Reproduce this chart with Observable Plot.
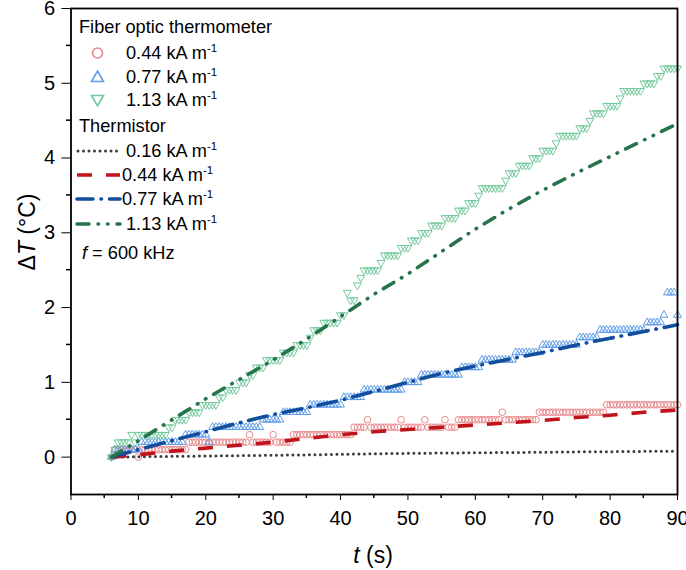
<!DOCTYPE html>
<html><head><meta charset="utf-8">
<script src="https://cdn.jsdelivr.net/npm/d3@7"></script>
<script src="https://cdn.jsdelivr.net/npm/@observablehq/plot@0.6"></script>
<style>body{margin:0;background:#fff}</style>
</head><body><div id="chart"></div>
<script>
// Fiber optic thermometer samples (every 0.5 s from 6 s to 90 s), ΔT in °C
const fiberTime = d3.range(6, 90.001, 0.5);
const fiber044 = [
0,
0.1,0.1,0.1,0.1,0.1,0.1,0.1,
0,
0.1,0.1,0.1,0.1,0.1,0.1,0.1, 0.1,0.1,0.1,0.1,0.1,0.1,0.1,
0.2,0.2,0.2,0.2,0.2,0.2, 0.2,0.2,0.2,0.2,0.2,0.2, 0.2,0.2,0.2,0.2,0.2,0.2,
0.3,
0.2,0.2,0.2,0.2,0.2,0.2,
0.3,
0.2,0.2,0.2,0.2,0.2,
0.3,0.3,0.3,0.3,0.3,0.3, 0.3,0.3,0.3,0.3,0.3,0.3, 0.3,0.3,0.3,0.3,0.3,0.3,
0.4,0.4,0.4,0.4,
0.5,
0.4,0.4,0.4,0.4,0.4,0.4,0.4,0.4,0.4,
0.5,
0.4,0.4,0.4,0.4,0.4,0.4,
0.5,
0.4,0.4,0.4,0.4,0.4,
0.5,
0.4,0.4,0.4,
0.5,0.5,0.5,0.5,0.5,0.5,0.5, 0.5,0.5,0.5,0.5,0.5,0.5,
0.6,
0.5,0.5,0.5,0.5,0.5, 0.5,0.5,0.5,0.5,0.5,
0.6,0.6,0.6,0.6,0.6, 0.6,0.6,0.6,0.6,0.6, 0.6,0.6,0.6,0.6,0.6, 0.6,0.6,0.6,0.6,0.6,
0.7,0.7,0.7,0.7,0.7,0.7,0.7,0.7,0.7,0.7,0.7, 0.7,0.7,0.7,0.7,0.7,0.7,0.7,0.7,0.7,0.7,0.7
];
const fiber077 = [
0,
0.1,0.1,0.1,0.1,0.1,0.1,0.1,0.1,
0.2,0.2,0.2,0.2,0.2,0.2,0.2, 0.2,0.2,0.2,0.2,0.2,0.2,
0.3,0.3,0.3,0.3,0.3,0.3,0.3,
0.2,
0.4,0.4,0.4,0.4,0.4, 0.4,0.4,0.4,0.4,0.4, 0.4,0.4,0.4,0.4,0.4,
0.5,0.5,0.5,0.5,0.5,0.5,
0.6,0.6,0.6,0.6,0.6,0.6,0.6,0.6,
0.7,0.7,0.7,0.7,0.7,0.7,0.7,0.7,0.7,0.7,
0.8,0.8,0.8,0.8,0.8,0.8,
0.9,0.9,0.9,0.9,0.9,0.9, 0.9,0.9,0.9,0.9,0.9,0.9,
1,1,1,1,1,
1.1,1.1,1.1,1.1,1.1,1.1, 1.1,1.1,1.1,1.1,1.1,1.1,
1.2,1.2,1.2,1.2,1.2,1.2,
1.3,1.3,1.3,1.3,1.3, 1.3,1.3,1.3,1.3,1.3,
1.4,1.4,1.4,1.4,1.4,1.4,1.4,1.4,
1.5,1.5,1.5,1.5,1.5,1.5, 1.5,1.5,1.5,1.5,1.5,
1.6,1.6,1.6,1.6,1.6,1.6,
1.7,1.7,1.7,1.7,1.7,1.7,1.7, 1.7,1.7,1.7,1.7,1.7,1.7,1.7,
1.8,1.8,1.8,1.8,1.8,
1.9,
2.2,2.2,2.2,
1.9
];
const fiber113 = [
0, 0.1,
0.2,0.2,0.2,0.2,0.3,0.2,
0.3,0.3,0.3,0.3,0.3,0.3,0.3,0.3,0.3,
0.4,0.4,
0.5,0.5,0.5,0.5,
0.6,0.6,0.6,0.6,
0.7,0.7,0.7,0.7,0.7,
0.8,0.8,
0.9,0.9,0.9,0.9,
1,1,1,
1.1,1.1,
1.2,1.2,1.2,
1.3,1.3,1.3,1.3,1.3,
1.4,1.4,1.4,1.4,
1.5,1.5,1.5,1.5,
1.6,
1.7,1.7,1.7,
1.8,1.8,1.8,1.8,1.8,
1.9,1.9,
2.2,
2.1,2.1,
2.3,
2.4,
2.5,2.5,2.5,2.5,2.5,
2.6,
2.7,2.7,2.7,2.7,2.7,
2.8,2.8,2.8,
2.9,2.9,2.9,
3,3,3,
3.1,3.1,3.1,3.1,
3.2,3.2,3.2,3.2,
3.3,3.3,3.3,
3.4,3.4,3.4,
3.5,
3.6,3.6,3.6,3.6,3.6,3.6,3.6,
3.7,
3.8,3.8,3.8,
3.9,3.9,3.9,3.9,
4,4,4,
4.1,4.1,4.1,4.1,
4.2,
4.3,4.3,4.3,4.3,4.3,4.3,
4.4,4.4,4.4,
4.5,
4.6,4.6,4.6,4.6,
4.7,4.7,4.7,4.7,
4.8,
4.9,4.9,4.9,4.9,4.9,4.9,
5,5,5,5,
5.1,5.1,
5.2,5.2,5.2,5.2,5.2
];

// Thermistor readings, ΔT in °C
const thermTime = [6,10,15,20,25,30,35,40,45,50,55,60,65,70,75,80,85,90];
const therm016 = [0,0.005,0.01,0.015,0.02,0.025,0.03,0.038,0.045,0.05,0.055,0.058,0.062,0.065,0.07,0.073,0.077,0.08];
const therm044 = [0,0.03,0.08,0.12,0.16,0.2,0.25,0.3,0.34,0.37,0.4,0.43,0.46,0.49,0.53,0.56,0.6,0.63];
const therm077 = [0,0.1,0.22,0.34,0.46,0.57,0.66,0.76,0.88,1.0,1.12,1.22,1.31,1.4,1.5,1.59,1.68,1.77];
const therm113 = [0,0.22,0.5,0.78,1.04,1.3,1.58,1.88,2.18,2.45,2.75,3.05,3.32,3.57,3.8,4.02,4.24,4.46];

const xTicks = [0,10,20,30,40,50,60,70,80,90];
const xMinor = [5,15,25,35,45,55,65,75,85];
const yTicks = [0,1,2,3,4,5,6];
const yMinor = [0.5,1.5,2.5,3.5,4.5,5.5];

const fiberLabels = ["0.44", "0.77", "1.13"];
const thermLabels = ["0.16", "0.44", "0.77", "1.13"];

const rows = (ts, vs) => vs.map((v, i) => ({t: ts[i], v})).filter(d => d.t != null);

const C = {
  fc: "#E8868A", fb: "#5E9DE8", fg: "#72C99B",
  tk: "#3c3c3c", tr: "#C0141C", tb: "#124E9E", tg: "#27744A"
};
const lineStyles = [
  {data: therm016, stroke: C.tk, w: 3, dash: "0 5.5", cap: "round"},
  {data: therm044, stroke: C.tr, w: 3.6, dash: "15 14", cap: "butt"},
  {data: therm077, stroke: C.tb, w: 3.6, dash: "19 8 0.5 8", cap: "round"},
  {data: therm113, stroke: C.tg, w: 3.6, dash: "12 9 0.5 9 0.5 9", cap: "round"}
];

const plot = Plot.plot({
  width: 686, height: 570,
  marginLeft: 70.5, marginRight: 9, marginTop: 8, marginBottom: 76,
  style: {fontFamily: "'Liberation Sans', Arial, sans-serif", fontSize: "20px", background: "white", color: "black", overflow: "visible"},
  x: {domain: [0, 90], ticks: xTicks, tickSize: 6, tickPadding: 10, label: null, tickFormat: d => String(d)},
  y: {domain: [-0.5, 6], ticks: yTicks, tickSize: 9, tickPadding: 7, label: null, tickFormat: d => String(d)},
  marks: [
    Plot.dot(rows(fiberTime, fiber044), {x: "t", y: "v", r: 3.3, symbol: "circle", stroke: C.fc, fill: "none", strokeWidth: 1}),
    Plot.dot(rows(fiberTime, fiber077), {x: "t", y: "v", r: 2.9, symbol: "triangle", stroke: C.fb, fill: "none", strokeWidth: 1}),
    Plot.dot(rows(fiberTime, fiber113), {x: "t", y: "v", r: 2.9, symbol: "triangle", rotate: 180, stroke: C.fg, fill: "none", strokeWidth: 1}),
    ...lineStyles.map(s => Plot.line(rows(thermTime, s.data), {x: "t", y: "v", stroke: s.stroke, strokeWidth: s.w, strokeDasharray: s.dash, strokeLinecap: s.cap})),
    Plot.frame({stroke: "black", strokeWidth: 1.8})
  ]
});
document.getElementById("chart").appendChild(plot);

const svg = d3.select(plot);
const sx = plot.scale("x"), sy = plot.scale("y");
const x0 = sx.apply(0), y0 = sy.apply(-0.5);
// minor ticks
const g = svg.append("g").attr("stroke", "black").attr("stroke-width", 1.5);
xMinor.forEach(v => g.append("line").attr("x1", sx.apply(v)).attr("x2", sx.apply(v)).attr("y1", y0).attr("y2", y0 + 4));
yMinor.forEach(v => g.append("line").attr("y1", sy.apply(v)).attr("y2", sy.apply(v)).attr("x1", x0).attr("x2", x0 - 4.5));

// axis titles
const font = "'Liberation Sans', Arial, sans-serif";
const xt = svg.append("text").attr("x", 373).attr("y", 563).attr("text-anchor", "middle")
  .attr("font-family", font).attr("font-size", 23).attr("fill", "black");
xt.append("tspan").attr("font-style", "italic").text("t");
xt.append("tspan").text(" (s)");
const yt = svg.append("text").attr("transform", "translate(35,232) rotate(-90)").attr("text-anchor", "middle")
  .attr("font-family", font).attr("font-size", 23).attr("fill", "black");
yt.append("tspan").text("Δ");
yt.append("tspan").attr("font-style", "italic").text("T");
yt.append("tspan").text(" (°C)");

// legend
const lg = svg.append("g").attr("font-family", font).attr("font-size", 18.2).attr("fill", "black").attr("text-anchor", "start");
const addLabel = (x, y, num) => {
  const t = lg.append("text").attr("x", x).attr("y", y);
  t.append("tspan").text(num + " kA m");
  t.append("tspan").attr("dy", -7).attr("font-size", 11.5).text("-1");
};
lg.append("text").attr("x", 79).attr("y", 33).text("Fiber optic thermometer");
const fb = [59, 83, 106];
lg.append("circle").attr("cx", 97.5).attr("cy", fb[0] - 6).attr("r", 5).attr("fill", "none").attr("stroke", C.fc).attr("stroke-width", 1.6);
addLabel(126, fb[0], fiberLabels[0]);
{ const cx = 97.5, cy = fb[1] - 6;
  lg.append("path").attr("d", `M${cx},${cy-6}L${cx+6},${cy+4.5}L${cx-6},${cy+4.5}Z`).attr("fill", "none").attr("stroke", C.fb).attr("stroke-width", 1.6); }
addLabel(126, fb[1], fiberLabels[1]);
{ const cx = 97.5, cy = fb[2] - 6;
  lg.append("path").attr("d", `M${cx},${cy+6}L${cx+6},${cy-4.5}L${cx-6},${cy-4.5}Z`).attr("fill", "none").attr("stroke", C.fg).attr("stroke-width", 1.6); }
addLabel(126, fb[2], fiberLabels[2]);
lg.append("text").attr("x", 79).attr("y", 132).text("Thermistor");
const tb = [157, 181, 205, 230];
lineStyles.forEach((s, i) => {
  lg.append("line").attr("x1", i === 0 ? 78 : 77).attr("x2", 120).attr("y1", tb[i] - 6).attr("y2", tb[i] - 6)
    .attr("stroke", s.stroke).attr("stroke-width", s.w).attr("stroke-dasharray", i === 2 ? "16 8 0.5 8" : s.dash).attr("stroke-linecap", s.cap);
  addLabel(i === 0 || i === 3 ? 126 : 122, tb[i], thermLabels[i]);
});
const ft = lg.append("text").attr("x", 82).attr("y", 259);
ft.append("tspan").attr("font-style", "italic").text("f");
ft.append("tspan").text(" = 600 kHz");
</script>
</body></html>
